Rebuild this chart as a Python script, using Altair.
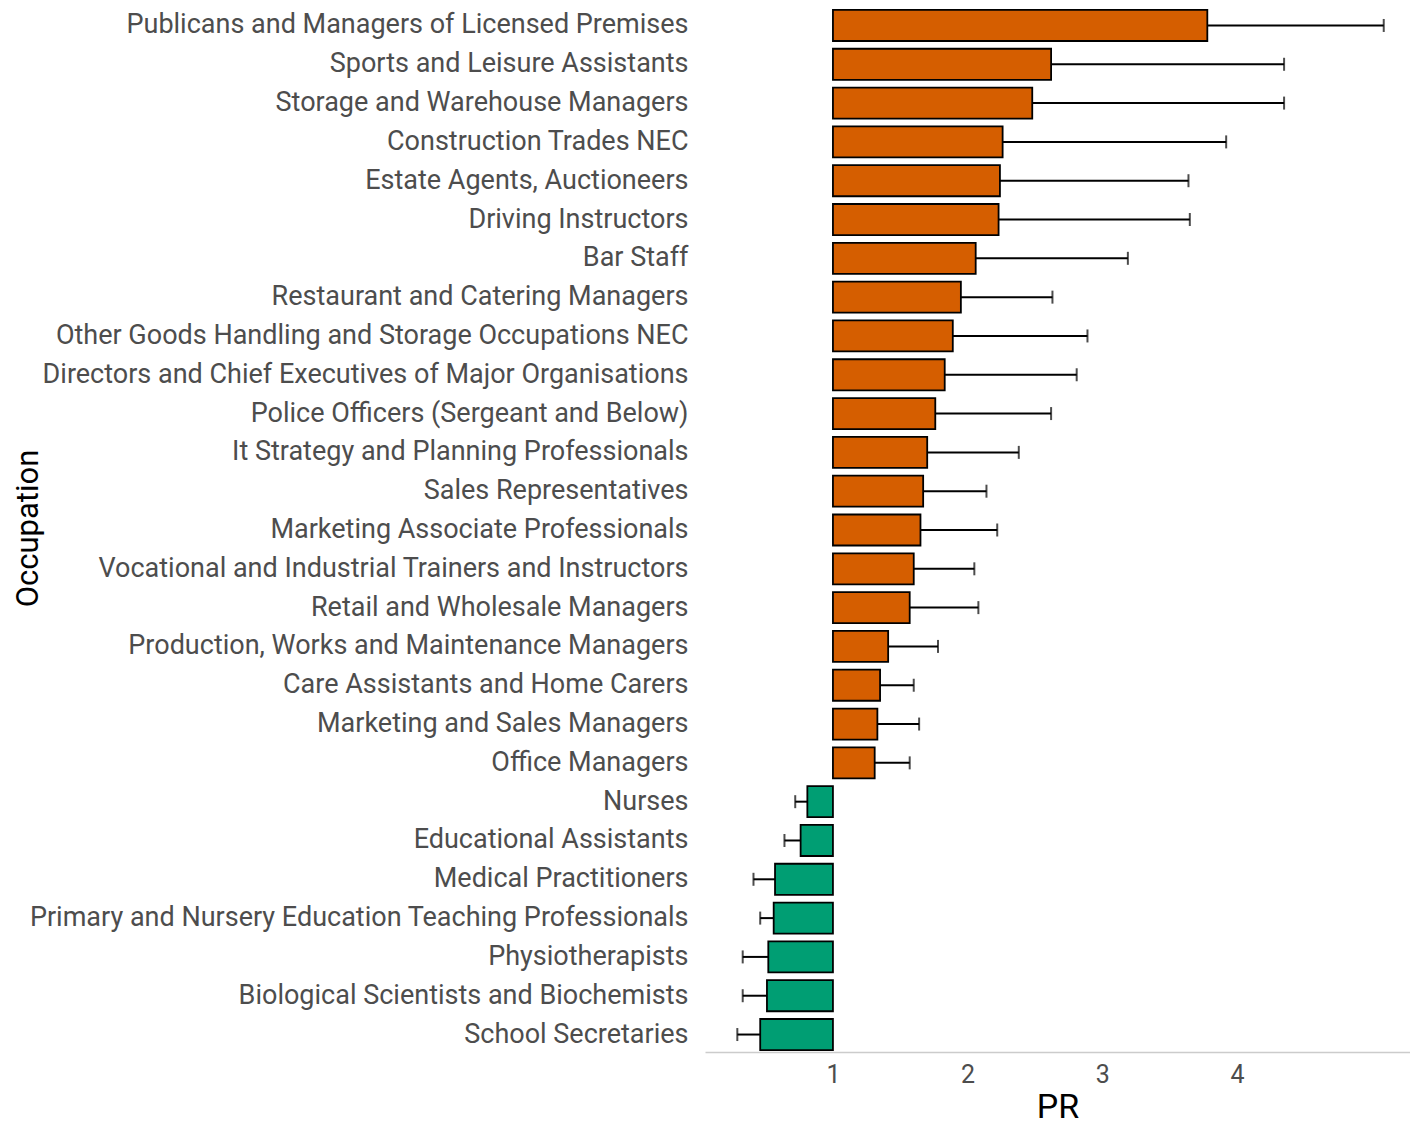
import altair as alt
import pandas as pd

occupations = [
    "Publicans and Managers of Licensed Premises",
    "Sports and Leisure Assistants",
    "Storage and Warehouse Managers",
    "Construction Trades NEC",
    "Estate Agents, Auctioneers",
    "Driving Instructors",
    "Bar Staff",
    "Restaurant and Catering Managers",
    "Other Goods Handling and Storage Occupations NEC",
    "Directors and Chief Executives of Major Organisations",
    "Police Officers (Sergeant and Below)",
    "It Strategy and Planning Professionals",
    "Sales Representatives",
    "Marketing Associate Professionals",
    "Vocational and Industrial Trainers and Instructors",
    "Retail and Wholesale Managers",
    "Production, Works and Maintenance Managers",
    "Care Assistants and Home Carers",
    "Marketing and Sales Managers",
    "Office Managers",
    "Nurses",
    "Educational Assistants",
    "Medical Practitioners",
    "Primary and Nursery Education Teaching Professionals",
    "Physiotherapists",
    "Biological Scientists and Biochemists",
    "School Secretaries",
]

pr_values = [3.78, 2.62, 2.48, 2.26, 2.24, 2.23, 2.06, 1.95, 1.89, 1.83,
             1.76, 1.70, 1.67, 1.65, 1.60, 1.57, 1.41, 1.35, 1.33, 1.31,
             0.81, 0.76, 0.57, 0.56, 0.52, 0.51, 0.46]

ci_outer = [5.09, 4.35, 4.35, 3.92, 3.64, 3.65, 3.19, 2.63, 2.89, 2.81,
            2.62, 2.38, 2.14, 2.22, 2.05, 2.08, 1.78, 1.60, 1.64, 1.57,
            0.72, 0.64, 0.41, 0.46, 0.33, 0.33, 0.29]

x_ticks = [1, 2, 3, 4]

df = pd.DataFrame({
    "Occupation": occupations,
    "PR": pr_values,
    "CI": ci_outer,
})
df["base"] = 1.0
df["dir"] = ["up" if v > 1 else "down" for v in df["PR"]]

y_enc = alt.Y(
    "Occupation:N",
    sort=occupations,
    scale=alt.Scale(paddingInner=0.2, paddingOuter=0.05),
    axis=alt.Axis(
        title="Occupation",
        labelFont="Roboto",
        labelFontSize=27,
        labelColor="#4d4d4d",
        labelPadding=17,
        labelLimit=1000,
        ticks=False,
        domain=False,
        grid=False,
        titleFont="Roboto",
        titleFontSize=31,
        titleFontWeight="normal",
        titleColor="#000000",
        titleX=-677,
        titleY=520,
        titleBaseline="middle",
        titleAlign="center",
    ),
)

x_scale = alt.Scale(domain=[0.05, 5.285], nice=False, zero=False)

bars = alt.Chart(df).mark_bar(stroke="#000000", strokeWidth=1.8).encode(
    x=alt.X(
        "PR:Q",
        scale=x_scale,
        axis=alt.Axis(
            title="PR",
            values=x_ticks,
            format="d",
            labelFont="Roboto",
            labelFontSize=25,
            labelColor="#4d4d4d",
            labelPadding=10,
            ticks=False,
            grid=False,
            domainColor="#cccccc",
            domainWidth=1.5,
            titleFont="Roboto",
            titleFontSize=34,
            titleFontWeight="normal",
            titleColor="#000000",
            titlePadding=3,
        ),
    ),
    x2="base:Q",
    y=y_enc,
    color=alt.Color(
        "dir:N",
        scale=alt.Scale(domain=["up", "down"], range=["#D55E00", "#009E73"]),
        legend=None,
    ),
)

rules = alt.Chart(df).mark_rule(color="#000000", strokeWidth=2).encode(
    x=alt.X("PR:Q", scale=x_scale),
    x2="CI:Q",
    y=alt.Y("Occupation:N", sort=occupations),
)

caps = alt.Chart(df).mark_tick(color="#000000", thickness=2, size=13).encode(
    x=alt.X("CI:Q", scale=x_scale),
    y=alt.Y("Occupation:N", sort=occupations),
)

chart = (
    alt.layer(bars, rules, caps)
    .properties(
        width=705,
        height=1044,
        autosize=alt.AutoSizeParams(type="none"),
        padding={"left": 697, "top": 0, "right": 0, "bottom": 72},
    )
    .configure(background="#ffffff")
    .configure_view(strokeWidth=0, stroke="transparent")
)

chart.save("out.html", embed_options={"renderer": "svg", "actions": False})
